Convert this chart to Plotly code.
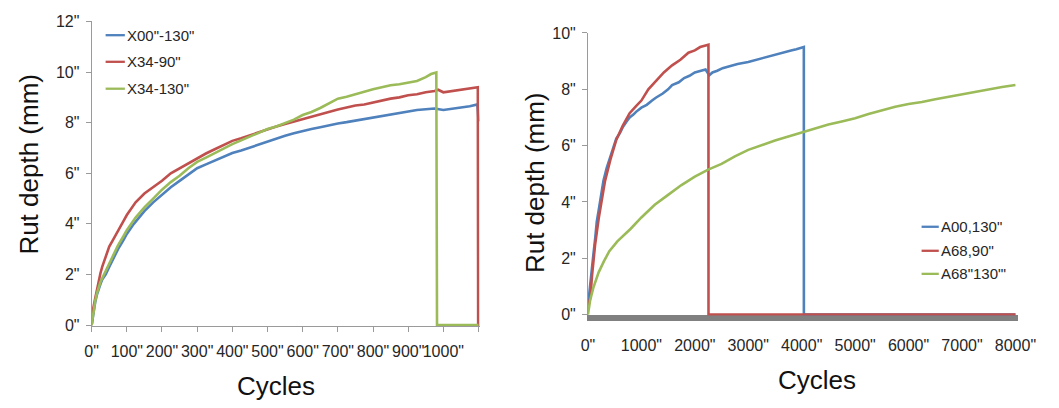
import plotly.graph_objects as go

# ---------------- Left chart data ----------------
left_x_ticks = [0, 100, 200, 300, 400, 500, 600, 700, 800, 900, 1000, 1100]
left_x_text = ['0"', '100"', '200"', '300"', '400"', '500"', '600"', '700"', '800"', '900"', '1000"', '']
left_y_ticks = [0, 2, 4, 6, 8, 10, 12]
left_y_text = ['0"', '2"', '4"', '6"', '8"', '10"', '12"']

x00_130_cycles = [0, 5, 10, 15, 20, 25, 30, 40, 50, 60, 75, 90, 100, 120, 150, 175, 200, 225, 250, 275,
                  300, 325, 350, 375, 400, 425, 450, 475, 500, 525, 550, 575, 600, 625, 650, 675, 700,
                  725, 750, 775, 800, 825, 850, 875, 900, 925, 950, 975, 1000, 1025, 1050, 1075, 1097, 1100]
x00_130_depth = [0, 0.55, 0.9, 1.2, 1.45, 1.62, 1.8, 2.0, 2.3, 2.6, 3.0, 3.35, 3.6, 4.0, 4.5, 4.85, 5.15, 5.45,
                 5.7, 5.95, 6.2, 6.35, 6.5, 6.65, 6.8, 6.9, 7.02, 7.12, 7.25, 7.35, 7.48, 7.58, 7.68, 7.75,
                 7.82, 7.9, 7.97, 8.02, 8.08, 8.12, 8.18, 8.24, 8.3, 8.38, 8.44, 8.5, 8.53, 8.56, 8.5, 8.56,
                 8.6, 8.65, 8.72, 8.05]

x34_90_cycles = [0, 5, 10, 15, 20, 25, 30, 40, 50, 60, 75, 90, 100, 125, 150, 175, 200, 225, 250, 275,
                 300, 325, 350, 375, 400, 425, 450, 475, 500, 525, 550, 575, 600, 625, 650, 675, 700,
                 725, 750, 775, 800, 825, 850, 875, 900, 925, 950, 975, 985, 1000, 1025, 1050, 1075, 1098,
                 1099, 1103]
x34_90_depth = [0, 0.7, 1.05, 1.4, 1.8, 2.05, 2.3, 2.75, 3.1, 3.35, 3.75, 4.1, 4.35, 4.85, 5.2, 5.45, 5.7,
                6.0, 6.2, 6.4, 6.6, 6.78, 6.95, 7.12, 7.28, 7.38, 7.5, 7.62, 7.75, 7.85, 7.95, 8.05, 8.15,
                8.25, 8.35, 8.45, 8.52, 8.6, 8.68, 8.72, 8.8, 8.88, 8.95, 9.0, 9.08, 9.12, 9.2, 9.25, 9.3,
                9.2, 9.25, 9.3, 9.35, 9.4, 0, 0]

x34_130_cycles = [0, 5, 10, 15, 20, 25, 30, 40, 50, 60, 75, 90, 100, 125, 150, 175, 200, 225, 250, 275,
                  300, 325, 350, 375, 400, 425, 450, 475, 500, 525, 550, 575, 600, 625, 650, 675, 700,
                  725, 750, 775, 800, 825, 850, 875, 900, 925, 950, 965, 980, 981, 982, 1100]
x34_130_depth = [0, 0.6, 0.95, 1.25, 1.5, 1.7, 1.85, 2.15, 2.45, 2.75, 3.15, 3.5, 3.75, 4.25, 4.65, 5.0,
                 5.35, 5.65, 5.9, 6.2, 6.45, 6.62, 6.8, 6.98, 7.15, 7.3, 7.45, 7.6, 7.75, 7.85, 7.98, 8.12,
                 8.3, 8.42, 8.58, 8.75, 8.95, 9.02, 9.12, 9.25, 9.32, 9.4, 9.48, 9.52, 9.58, 9.65, 9.8,
                 9.92, 9.98, 6.6, 0, 0]

# ---------------- Right chart data ----------------
right_x_ticks = [0, 1000, 2000, 3000, 4000, 5000, 6000, 7000, 8000]
right_x_text = ['0"', '1000"', '2000"', '3000"', '4000"', '5000"', '6000"', '7000"', '8000"']
right_y_ticks = [0, 2, 4, 6, 8, 10]
right_y_text = ['0"', '2"', '4"', '6"', '8"', '10"']

a00_130_cycles = [0, 20, 40, 70, 100, 135, 165, 200, 230, 260, 290, 350, 400, 450, 530, 600, 650, 720,
                  780, 850, 900, 1000, 1100, 1200, 1270, 1400, 1500, 1575, 1700, 1800, 1900, 2000, 2100,
                  2200, 2270, 2330, 2420, 2520, 2650, 2800, 3000, 3150, 3300, 3500, 3650, 3800, 3900,
                  4000, 4040, 4041, 8000]
a00_130_depth = [0.3, 0.7, 1.0, 1.6, 2.1, 2.7, 3.3, 3.7, 4.1, 4.45, 4.75, 5.2, 5.5, 5.8, 6.25, 6.45, 6.65,
                 6.85, 7.0, 7.1, 7.2, 7.35, 7.45, 7.6, 7.7, 7.85, 8.0, 8.15, 8.25, 8.4, 8.48, 8.6, 8.65,
                 8.7, 8.5, 8.6, 8.66, 8.75, 8.82, 8.9, 8.97, 9.05, 9.12, 9.24, 9.3, 9.38, 9.42, 9.48, 9.5,
                 0, 0]

a68_90_cycles = [0, 45, 75, 135, 200, 260, 320, 420, 530, 650, 780, 900, 1000, 1130, 1270, 1420, 1575,
                 1730, 1880, 2000, 2100, 2200, 2255, 2256, 8000]
a68_90_depth = [0.3, 0.6, 1.36, 2.5, 3.4, 4.1, 4.75, 5.5, 6.2, 6.7, 7.15, 7.4, 7.6, 8.0, 8.3, 8.6, 8.85,
                9.05, 9.3, 9.38, 9.5, 9.55, 9.58, 0, 0]

a68_130_cycles = [0, 40, 100, 200, 300, 400, 550, 800, 1000, 1250, 1500, 1750, 2000, 2250, 2500, 2750,
                  3000, 3250, 3500, 3750, 4000, 4250, 4500, 4750, 5000, 5250, 5500, 5750, 6000, 6250,
                  6500, 6750, 7000, 7250, 7500, 7750, 8000]
a68_130_depth = [0, 0.5, 0.95, 1.5, 1.9, 2.25, 2.6, 3.05, 3.45, 3.9, 4.25, 4.6, 4.9, 5.15, 5.35, 5.62,
                 5.85, 6.02, 6.18, 6.32, 6.46, 6.62, 6.75, 6.86, 6.97, 7.12, 7.25, 7.38, 7.48, 7.55,
                 7.65, 7.74, 7.82, 7.92, 8.0, 8.08, 8.15]

BLUE = '#4F81BD'
RED = '#C0504D'
GREEN = '#9BBB59'
AXIS = '#9a9a9a'
TXT = '#262626'
FONT = 'Liberation Sans, Arial, sans-serif'

W, H = 1059, 408


def fx(px):
    return px / W


def fy(py):
    return 1 - py / H


fig = go.Figure()
lw = 2.6
fig.add_trace(go.Scatter(x=x00_130_cycles, y=x00_130_depth, mode='lines', name='X00"-130"',
                         line=dict(color=BLUE, width=lw), xaxis='x', yaxis='y'))
fig.add_trace(go.Scatter(x=x34_90_cycles, y=x34_90_depth, mode='lines', name='X34-90"',
                         line=dict(color=RED, width=lw), xaxis='x', yaxis='y'))
fig.add_trace(go.Scatter(x=x34_130_cycles, y=x34_130_depth, mode='lines', name='X34-130"',
                         line=dict(color=GREEN, width=lw), xaxis='x', yaxis='y'))

fig.add_trace(go.Scatter(x=a00_130_cycles, y=a00_130_depth, mode='lines', name='A00,130"',
                         line=dict(color=BLUE, width=lw), xaxis='x2', yaxis='y2'))
fig.add_trace(go.Scatter(x=a68_90_cycles, y=a68_90_depth, mode='lines', name='A68,90"',
                         line=dict(color=RED, width=lw), xaxis='x2', yaxis='y2'))
fig.add_trace(go.Scatter(x=a68_130_cycles, y=a68_130_depth, mode='lines', name='A68"130"\'',
                         line=dict(color=GREEN, width=lw), xaxis='x2', yaxis='y2'))

tickfont = dict(family=FONT, size=16, color=TXT)

common_axis = dict(showgrid=False, zeroline=False, showline=True, linecolor=AXIS, linewidth=1,
                   ticks='outside', ticklen=5, tickcolor=AXIS, tickwidth=1, tickfont=tickfont,
                   tickangle=0, fixedrange=True)

fig.update_layout(
    width=W, height=H,
    margin=dict(l=0, r=0, t=0, b=0),
    paper_bgcolor='white', plot_bgcolor='white',
    showlegend=False,
    xaxis=dict(common_axis, domain=[fx(86.7), fx(484)], range=[0, 1103], anchor='y',
               tickmode='array', tickvals=left_x_ticks, ticktext=left_x_text, ticklabelstandoff=6),
    yaxis=dict(common_axis, domain=[fy(331.05), fy(14)], range=[-0.04, 12], anchor='x',
               tickmode='array', tickvals=left_y_ticks, ticktext=left_y_text, ticklabelstandoff=3),
    xaxis2=dict(common_axis, domain=[fx(595), fx(1035)], range=[0, 8040], anchor='y2',
                tickmode='array', tickvals=right_x_ticks, ticktext=right_x_text,
                ticks='', linewidth=6, linecolor='#808080', layer='below traces',
                ticklabelstandoff=10, ticklabeloverflow='allow'),
    yaxis2=dict(common_axis, domain=[fy(320), fy(26)], range=[-0.03, 10], anchor='x2',
                tickmode='array', tickvals=right_y_ticks, ticktext=right_y_text, ticklabelstandoff=3),
)

titlefont = dict(family=FONT, size=26, color='#111111')
annotations = [
    dict(text='Rut depth (mm)', x=fx(22.5), y=fy(162), textangle=-90),
    dict(text='Rut depth (mm)', x=fx(541), y=fy(182), textangle=-90),
    dict(text='Cycles', x=fx(275), y=fy(393)),
    dict(text='Cycles', x=fx(830), y=fy(387)),
]
for a in annotations:
    a.update(xref='paper', yref='paper', showarrow=False, font=titlefont,
             xanchor='center', yanchor='middle')

# manual legends (short line + label)
legend_font = dict(family=FONT, size=15, color=TXT)
left_legend = [('X00"-130"', BLUE, 28.3), ('X34-90"', RED, 56), ('X34-130"', GREEN, 84)]
right_legend = [('A00,130"', BLUE, 227.7), ('A68,90"', RED, 252.7), ('A68"130"\'', GREEN, 276.7)]
shapes = []
for items, x0, x1 in [(left_legend, 101, 120.7), (right_legend, 936.7, 954.3)]:
    for label, col, yy in items:
        shapes.append(dict(type='line', xref='paper', yref='paper', x0=fx(x0), x1=fx(x1),
                           y0=fy(yy), y1=fy(yy), line=dict(color=col, width=2.3)))
        annotations.append(dict(text=label, xref='paper', yref='paper', x=fx(x1), y=fy(yy),
                                xanchor='left', yanchor='middle', showarrow=False,
                                font=legend_font))

fig.update_layout(annotations=annotations, shapes=shapes)

fig.write_html('out.html')
